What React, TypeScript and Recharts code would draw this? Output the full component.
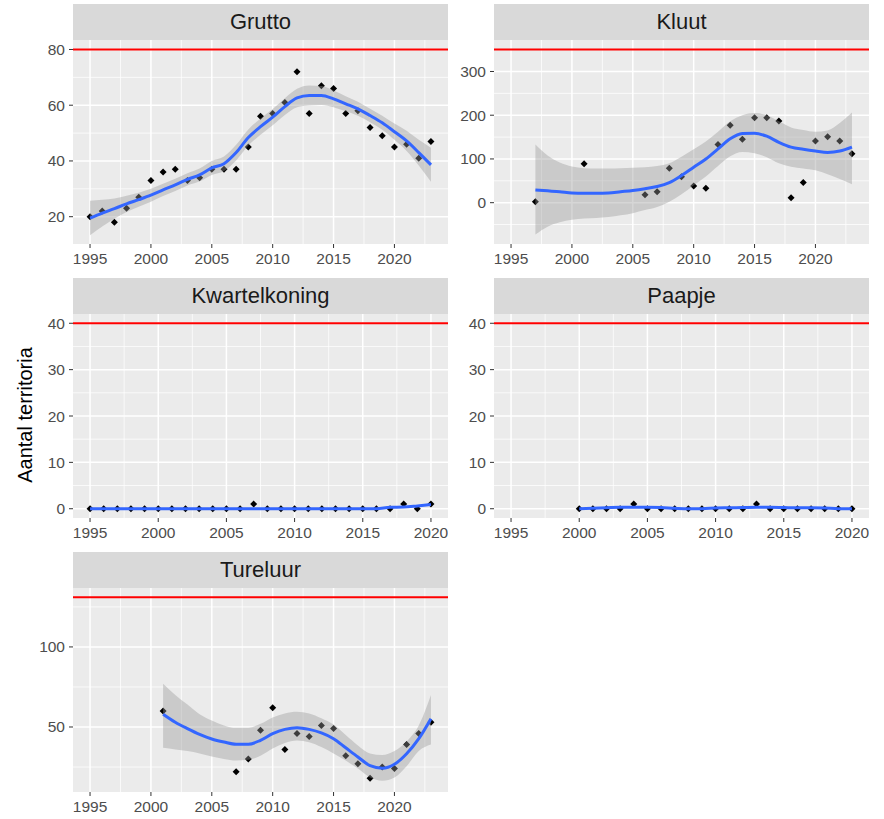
import React from 'react';
import {
  ComposedChart, Scatter, Area, Line, XAxis, YAxis, CartesianGrid, ReferenceLine,
} from 'recharts';

// ---- observed counts ----
const gruttoYears = [1995, 1996, 1997, 1998, 1999, 2000, 2001, 2002, 2003, 2004, 2005, 2006, 2007, 2008, 2009, 2010, 2011, 2012, 2013, 2014, 2015, 2016, 2017, 2018, 2019, 2020, 2021, 2022, 2023];
const gruttoCounts = [20, 22, 18, 23, 27, 33, 36, 37, 33, 34, 37, 37, 37, 45, 56, 57, 61, 72, 57, 67, 66, 57, 58, 52, 49, 45, 46, 41, 47];

const kluutYears = [1997, 2001, 2006, 2007, 2008, 2009, 2010, 2011, 2012, 2013, 2014, 2015, 2016, 2017, 2018, 2019, 2020, 2021, 2022, 2023];
const kluutCounts = [2, 89, 18, 25, 79, 59, 38, 33, 133, 177, 145, 194, 194, 187, 11, 46, 141, 151, 141, 112];

const kwartelYears = [1995, 1996, 1997, 1998, 1999, 2000, 2001, 2002, 2003, 2004, 2005, 2006, 2007, 2008, 2009, 2010, 2011, 2012, 2013, 2014, 2015, 2016, 2017, 2018, 2019, 2020];
const kwartelCounts = [0, 0, 0, 0, 0, 0, 0, 0, 0, 0, 0, 0, 1, 0, 0, 0, 0, 0, 0, 0, 0, 0, 0, 1, 0, 1];

const paapjeYears = [2000, 2001, 2002, 2003, 2004, 2005, 2006, 2007, 2008, 2009, 2010, 2011, 2012, 2013, 2014, 2015, 2016, 2017, 2018, 2019, 2020];
const paapjeCounts = [0, 0, 0, 0, 1, 0, 0, 0, 0, 0, 0, 0, 0, 1, 0, 0, 0, 0, 0, 0, 0];

const tureluurYears = [2001, 2007, 2008, 2009, 2010, 2011, 2012, 2013, 2014, 2015, 2016, 2017, 2018, 2019, 2020, 2021, 2022, 2023];
const tureluurCounts = [60, 22, 30, 48, 62, 36, 46, 44, 51, 49, 32, 27, 18, 25, 24, 39, 46, 53];

// ---- loess fits ----
const gruttoFitYears = gruttoYears;
const gruttoFit = [19.5, 21.3, 22.9, 24.6, 26.1, 27.7, 29.6, 31.4, 33.4, 35.0, 37.5, 39.0, 43.0, 48.4, 52.3, 55.7, 59.5, 62.6, 63.5, 63.5, 62.3, 60.5, 58.7, 56.3, 53.7, 50.5, 47.2, 43.0, 38.6];
const gruttoLo = [13.3, 16.5, 19.3, 21.7, 23.6, 25.4, 27.4, 29.2, 31.2, 32.7, 35.0, 36.4, 40.2, 45.5, 49.4, 52.8, 56.5, 59.3, 59.9, 60.1, 59.3, 57.8, 56.2, 53.9, 51.2, 47.6, 43.6, 38.4, 32.5];
const gruttoHi = [25.7, 26.1, 26.5, 27.5, 28.6, 30.0, 31.8, 33.6, 35.6, 37.3, 40.0, 41.6, 45.8, 51.3, 55.2, 58.6, 62.5, 65.9, 67.1, 66.9, 65.3, 63.2, 61.2, 58.7, 56.2, 53.4, 50.8, 47.6, 44.7];

const kluutFitYears = [1997, 1998, 1999, 2000, 2001, 2002, 2003, 2004, 2005, 2006, 2007, 2008, 2009, 2010, 2011, 2012, 2013, 2014, 2015, 2016, 2017, 2018, 2019, 2020, 2021, 2022, 2023];
const kluutFit = [29, 27, 25, 22, 21.5, 21.5, 22, 25, 28, 32, 37, 46, 62, 81, 100, 123, 146, 158, 159, 152, 138, 127, 122, 118, 115, 118, 127];
const kluutLo = [-73, -55, -45, -39, -36, -35, -33, -29, -24, -17, -10, 2, 19, 40, 60, 84, 106, 116, 113, 104, 90, 82, 78, 74, 65, 54, 42];
const kluutHi = [133, 108, 92, 83, 79, 78, 78, 79, 80, 81, 84, 90, 105, 122, 140, 162, 186, 200, 205, 200, 186, 172, 166, 162, 165, 182, 206];

const kwartelFitYears = kwartelYears;
const kwartelFit = [0, 0, 0, 0, 0, 0, 0, 0, 0, 0, 0, 0, 0, 0, 0, 0, 0, 0, 0, 0, 0, 0, 0.3, 0.35, 0.6, 0.9];

const paapjeFitYears = paapjeYears;
const paapjeFit = [0.0, 0.1, 0.2, 0.3, 0.3, 0.3, 0.25, 0.1, 0.0, 0.0, 0.15, 0.2, 0.25, 0.3, 0.3, 0.25, 0.2, 0.2, 0.15, 0.0, 0.0];

const tureluurFitYears = [2001, 2002, 2003, 2004, 2005, 2006, 2007, 2008, 2009, 2010, 2011, 2012, 2013, 2014, 2015, 2016, 2017, 2018, 2019, 2020, 2021, 2022, 2023];
const tureluurFit = [58, 53, 49, 45.4, 42.5, 40.6, 39.2, 39.2, 41.7, 45.8, 48.5, 49.6, 48.5, 46.3, 42.7, 37, 31.3, 25.8, 24.2, 26.7, 33.3, 42.7, 55.2];
const tureluurLo = [37, 36, 35, 33.5, 31.5, 30, 29, 29.5, 32, 36.5, 40, 41.5, 40.5, 37.5, 33.5, 29, 24, 18.5, 16.5, 18.5, 25.5, 35, 39];
const tureluurHi = [77, 70, 64, 58, 54, 51, 49.5, 49.5, 52, 56, 58.5, 59.5, 58.5, 55.5, 51.5, 45, 38.5, 33.5, 32.5, 35, 41, 51, 70];

// ---- targets and axis breaks ----
const targets = { Grutto: 80, Kluut: 350, Kwartelkoning: 40, Paapje: 40, Tureluur: 131 };
const xTicks = [1995, 2000, 2005, 2010, 2015, 2020];
const xMinorWide = [1997.5, 2002.5, 2007.5, 2012.5, 2017.5, 2022.5];
const xMinorShort = [1997.5, 2002.5, 2007.5, 2012.5, 2017.5];

const PW = 375;
const PH = 204;
const STRIP_H = 36;
const Y_W = 50;
const X_H = 30;

const toPoints = (years: number[], counts: number[]) => years.map((year, i) => ({ year, count: counts[i] }));
const toSmooth = (years: number[], fit: number[], lo?: number[], hi?: number[]) =>
  years.map((year, i) => ({ year, fit: fit[i], band: lo && hi ? [lo[i], hi[i]] : null }));

const panels = [
  {
    name: 'Grutto', left: 73, top: 40,
    points: toPoints(gruttoYears, gruttoCounts),
    smooth: toSmooth(gruttoFitYears, gruttoFit, gruttoLo, gruttoHi),
    xDomain: [1993.6, 2024.4], xMinor: xMinorWide,
    yDomain: [10.2, 83.4], yTicks: [20, 40, 60, 80], yMinor: [30, 50, 70],
  },
  {
    name: 'Kluut', left: 494, top: 40,
    points: toPoints(kluutYears, kluutCounts),
    smooth: toSmooth(kluutFitYears, kluutFit, kluutLo, kluutHi),
    xDomain: [1993.6, 2024.4], xMinor: xMinorWide,
    yDomain: [-94.5, 372], yTicks: [0, 100, 200, 300], yMinor: [-50, 50, 150, 250, 350],
  },
  {
    name: 'Kwartelkoning', left: 73, top: 313.5,
    points: toPoints(kwartelYears, kwartelCounts),
    smooth: toSmooth(kwartelFitYears, kwartelFit),
    xDomain: [1993.75, 2021.25], xMinor: xMinorShort,
    yDomain: [-2, 42], yTicks: [0, 10, 20, 30, 40], yMinor: [5, 15, 25, 35],
  },
  {
    name: 'Paapje', left: 494, top: 313.5,
    points: toPoints(paapjeYears, paapjeCounts),
    smooth: toSmooth(paapjeFitYears, paapjeFit),
    xDomain: [1993.75, 2021.25], xMinor: xMinorShort,
    yDomain: [-2, 42], yTicks: [0, 10, 20, 30, 40], yMinor: [5, 15, 25, 35],
  },
  {
    name: 'Tureluur', left: 73, top: 587.8,
    points: toPoints(tureluurYears, tureluurCounts),
    smooth: toSmooth(tureluurFitYears, tureluurFit, tureluurLo, tureluurHi),
    xDomain: [1993.6, 2024.4], xMinor: xMinorWide,
    yDomain: [9.4, 136.8], yTicks: [50, 100], yMinor: [25, 75, 125],
  },
];

const Diamond = (props: any) => {
  const { cx, cy } = props;
  if (cx == null || cy == null) return null;
  const r = 3.5;
  return <path d={`M${cx},${cy - r} L${cx + r},${cy} L${cx},${cy + r} L${cx - r},${cy} Z`} fill="#000" />;
};

const tickStyle = { fill: '#4D4D4D', fontSize: 15.5 };

const Panel = ({ p }: { p: any }) => {
  const hasBand = p.smooth[0].band !== null;
  return (
    <>
      <div
        style={{
          position: 'absolute', left: p.left, top: p.top - STRIP_H, width: PW, height: STRIP_H,
          background: '#D9D9D9', color: '#1A1A1A', fontSize: 22,
          display: 'flex', alignItems: 'center', justifyContent: 'center',
        }}
      >
        {p.name}
      </div>
      <div style={{ position: 'absolute', left: p.left - Y_W, top: p.top }}>
        <ComposedChart width={Y_W + PW} height={PH + X_H} margin={{ top: 0, right: 0, bottom: 0, left: 0 }}>
          <CartesianGrid fill="#EBEBEB" stroke="#FFFFFF" strokeWidth={0.75}
            horizontalValues={p.yMinor} verticalValues={p.xMinor} />
          <CartesianGrid stroke="#FFFFFF" strokeWidth={1.5}
            horizontalValues={p.yTicks} verticalValues={xTicks} />
          <XAxis type="number" dataKey="year" domain={p.xDomain} ticks={xTicks} interval={0}
            allowDataOverflow axisLine={false} tickLine={{ stroke: '#333333' }} tickSize={4}
            tickMargin={5} height={X_H} tick={tickStyle} />
          <YAxis type="number" domain={p.yDomain} ticks={p.yTicks} interval={0}
            allowDataOverflow axisLine={false} tickLine={{ stroke: '#333333' }} tickSize={4}
            tickMargin={4} width={Y_W} tick={tickStyle} />
          <Scatter data={p.points} dataKey="count" shape={Diamond} zIndex={50} isAnimationActive={false} />
          {hasBand && (
            <Area data={p.smooth} dataKey="band" type="monotone" fill="#999999" fillOpacity={0.4}
              stroke="none" zIndex={100} isAnimationActive={false} />
          )}
          <Line data={p.smooth} dataKey="fit" type="monotone" stroke="#3366FF" strokeWidth={3}
            dot={false} activeDot={false} zIndex={400} isAnimationActive={false} />
          <ReferenceLine y={targets[p.name as keyof typeof targets]} stroke="#FF0000" strokeWidth={2} />
        </ComposedChart>
      </div>
    </>
  );
};

export default function App() {
  return (
    <div
      style={{
        position: 'absolute', left: 0, top: 0, width: 884, height: 819, background: '#FFFFFF',
        fontFamily: '"Liberation Sans", Arial, sans-serif',
      }}
    >
      {panels.map((p) => <Panel key={p.name} p={p} />)}
      <div
        style={{
          position: 'absolute', left: 25, top: 415, transform: 'translate(-50%, -50%) rotate(-90deg)',
          whiteSpace: 'nowrap', fontSize: 20, color: '#000000',
        }}
      >
        Aantal territoria
      </div>
    </div>
  );
}
